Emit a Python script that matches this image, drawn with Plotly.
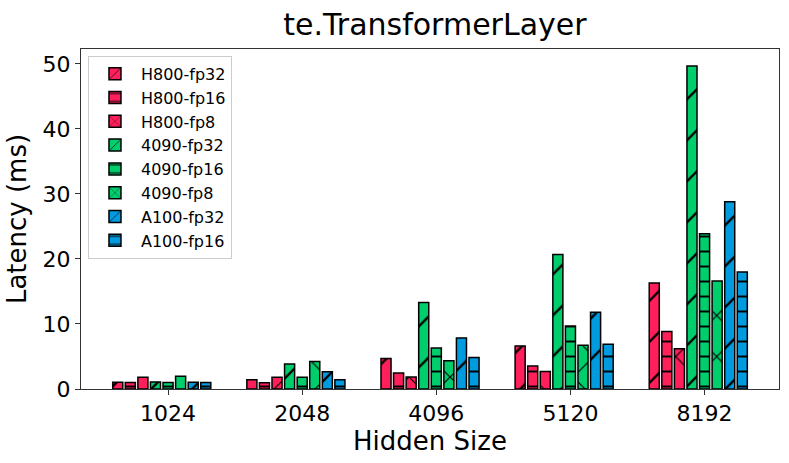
import plotly.graph_objects as go

hidden_sizes = ["1024", "2048", "4096", "5120", "8192"]
series_names = ["H800-fp32", "H800-fp16", "H800-fp8", "4090-fp32", "4090-fp16",
                "4090-fp8", "A100-fp32", "A100-fp16"]

h800_fp32 = [1.03, 1.43, 4.7, 6.63, 16.3]
h800_fp16 = [1.0, 0.97, 2.45, 3.52, 8.83]
h800_fp8 = [1.8, 1.8, 1.84, 2.7, 6.18]
rtx4090_fp32 = [1.07, 3.83, 13.3, 20.7, 49.7]
rtx4090_fp16 = [1.0, 1.8, 6.3, 9.7, 23.9]
rtx4090_fp8 = [1.95, 4.24, 4.34, 6.74, 16.6]
a100_fp32 = [1.05, 2.65, 7.86, 11.8, 28.8]
a100_fp16 = [1.0, 1.43, 4.85, 6.9, 18.0]

series_values = [h800_fp32, h800_fp16, h800_fp8, rtx4090_fp32, rtx4090_fp16,
                 rtx4090_fp8, a100_fp32, a100_fp16]

RED, GREEN, BLUE = "#FF1F5B", "#00CD6C", "#009ADE"
colors = [RED, RED, RED, GREEN, GREEN, GREEN, BLUE, BLUE]
hatches = ["/", "-", "x", "/", "-", "x", "/", "-"]
hatch_size = {"/": 29, "-": 15, "x": 29}
hatch_solid = {"/": 0.08, "-": 0.13, "x": 0.08}

step = 0.09375
bar_w = 0.075
x_idx = list(range(len(hidden_sizes)))

fig = go.Figure()
for i, (name, vals) in enumerate(zip(series_names, series_values)):
    fig.add_trace(go.Bar(
        x=x_idx, y=vals, name=name,
        width=bar_w, offset=(i - 4) * step - bar_w / 2,
        marker=dict(
            color=colors[i],
            line=dict(color="black", width=1.5),
            pattern=dict(shape=hatches[i], size=hatch_size[hatches[i]],
                         solidity=hatch_solid[hatches[i]], fgcolor="black",
                         fgopacity=1),
        ),
        legendgroup=name,
    ))

fig.update_layout(
    width=789, height=463,
    margin=dict(l=81, r=10, t=49, b=74, autoexpand=False),
    barmode="overlay",
    plot_bgcolor="white", paper_bgcolor="white",
    font=dict(family="DejaVu Sans", color="black"),
    title=dict(text="te.TransformerLayer", x=0.507, xref="paper", xanchor="center",
               y=1 - 24 / 463, yref="container", yanchor="middle",
               font=dict(size=30)),
    legend=dict(x=0.01, y=0.98, xanchor="left", yanchor="top",
                bgcolor="rgba(255,255,255,0.8)", bordercolor="#cccccc",
                borderwidth=1, font=dict(size=16), tracegroupgap=0,
                itemwidth=42),
    showlegend=True,
)
fig.update_xaxes(
    range=[-0.649, 4.555], tickmode="array", tickvals=x_idx, ticktext=hidden_sizes,
    tickfont=dict(size=22), ticks="outside", ticklen=5, tickcolor="#333",
    showline=True, linecolor="#333", linewidth=1, mirror=True, showgrid=False,
    automargin=False,
    title=dict(text="Hidden Size", font=dict(size=26), standoff=2),
)
fig.update_yaxes(
    range=[0, 52.3], tickvals=[0, 10, 20, 30, 40, 50],
    tickfont=dict(size=22), ticks="outside", ticklen=5, tickcolor="#333",
    showline=True, linecolor="#333", linewidth=1, mirror=True, showgrid=False,
    zeroline=False, automargin=False,
    title=dict(text="Latency (ms)", font=dict(size=26), standoff=8),
)

fig.write_html("out.html", config={"displayModeBar": False},
               post_script="document.body.style.margin='0';document.body.style.overflow='hidden';")
